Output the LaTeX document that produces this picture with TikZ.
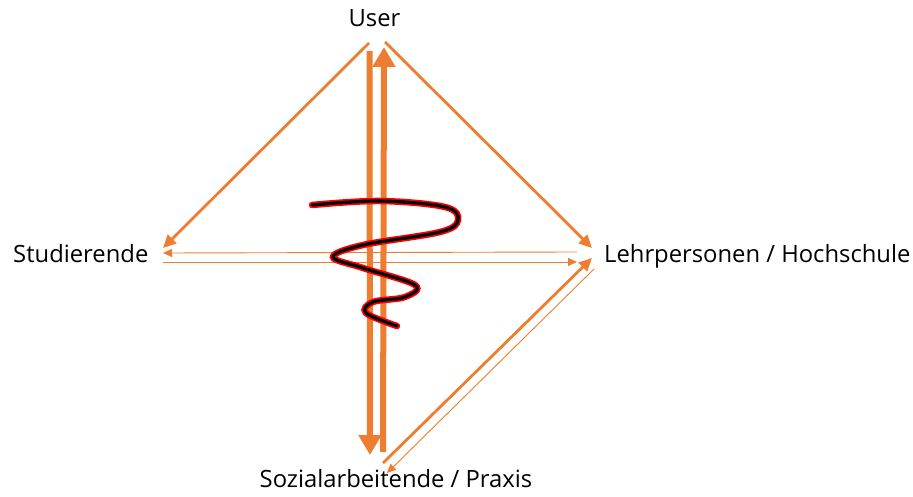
\documentclass[tikz,border=0pt]{standalone}
\usepackage{fontspec}
\setmainfont{Open Sans}
\usetikzlibrary{arrows.meta}
\definecolor{accent}{HTML}{ED7D31}

\begin{document}
\begin{tikzpicture}[x=1pt,y=-1pt,
    label/.style={inner sep=0pt,font=\fontsize{23.8}{27}\selectfont},
    mid/.style={accent,line width=2.8pt,-{Triangle[length=13pt,width=12pt]}},
    thin/.style={accent,line width=0.9pt,-{Triangle[length=9pt,width=8pt]}},
    heavy/.style={accent,line width=6pt,-{Triangle[length=20pt,width=22pt]}}]
  \useasboundingbox (0,0) rectangle (913,497);

  % The four parties
  \node[label,anchor=base] (user) at (374.5,27) {User};
  \node[label,anchor=base west] (stud) at (13,262) {Studierende};
  \node[label,anchor=base west] (lehr) at (604,262) {Lehrpersonen / Hochschule};
  \node[label,anchor=base] (sozial) at (396,487) {Sozialarbeitende / Praxis};

  % From the user down to both sides
  \draw[mid] ([xshift=-5.5pt,yshift=-16pt]user.base) -- ([xshift=150pt,yshift=14pt]stud.base west);
  \draw[mid] ([xshift=10.5pt,yshift=-15pt]user.base) -- ([xshift=-12pt,yshift=14pt]lehr.base west);

  % Heavy exchange between user and practice
  \draw[heavy] ([xshift=-5pt,yshift=-24pt]user.base) -- ([xshift=-26pt,yshift=32pt]sozial.base);
  \draw[heavy] ([xshift=-13pt,yshift=35pt]sozial.base) -- ([xshift=9.5pt,yshift=-20pt]user.base);

  % Thin exchange between students and teachers
  \draw[thin] ([xshift=-27pt,yshift=10pt]lehr.base west) -- ([xshift=150pt,yshift=9pt]stud.base west);
  \draw[thin] ([xshift=150pt,yshift=0pt]stud.base west) -- ([xshift=-27pt,yshift=0pt]lehr.base west);

  % Practice and teachers
  \draw[mid] ([xshift=-13pt,yshift=24pt]sozial.base) -- ([xshift=-12pt,yshift=4pt]lehr.base west);
  \draw[thin] ([xshift=-10pt,yshift=-7pt]lehr.base west) -- ([xshift=-9pt,yshift=14pt]sozial.base);

  % The spiral in the middle
  \draw[red, line width=6.5pt, line cap=round] plot [smooth, tension=0.6] coordinates {(312,205) (380,201) (445,207) (458,220) (440,232) (363,245) (333,257) (363,268) (415,285) (405,297) (373,302) (366,313) (397,326)};
  \draw[black, line width=3.2pt, line cap=round] plot [smooth, tension=0.6] coordinates {(312,205) (380,201) (445,207) (458,220) (440,232) (363,245) (333,257) (363,268) (415,285) (405,297) (373,302) (366,313) (397,326)};
\end{tikzpicture}
\end{document}
